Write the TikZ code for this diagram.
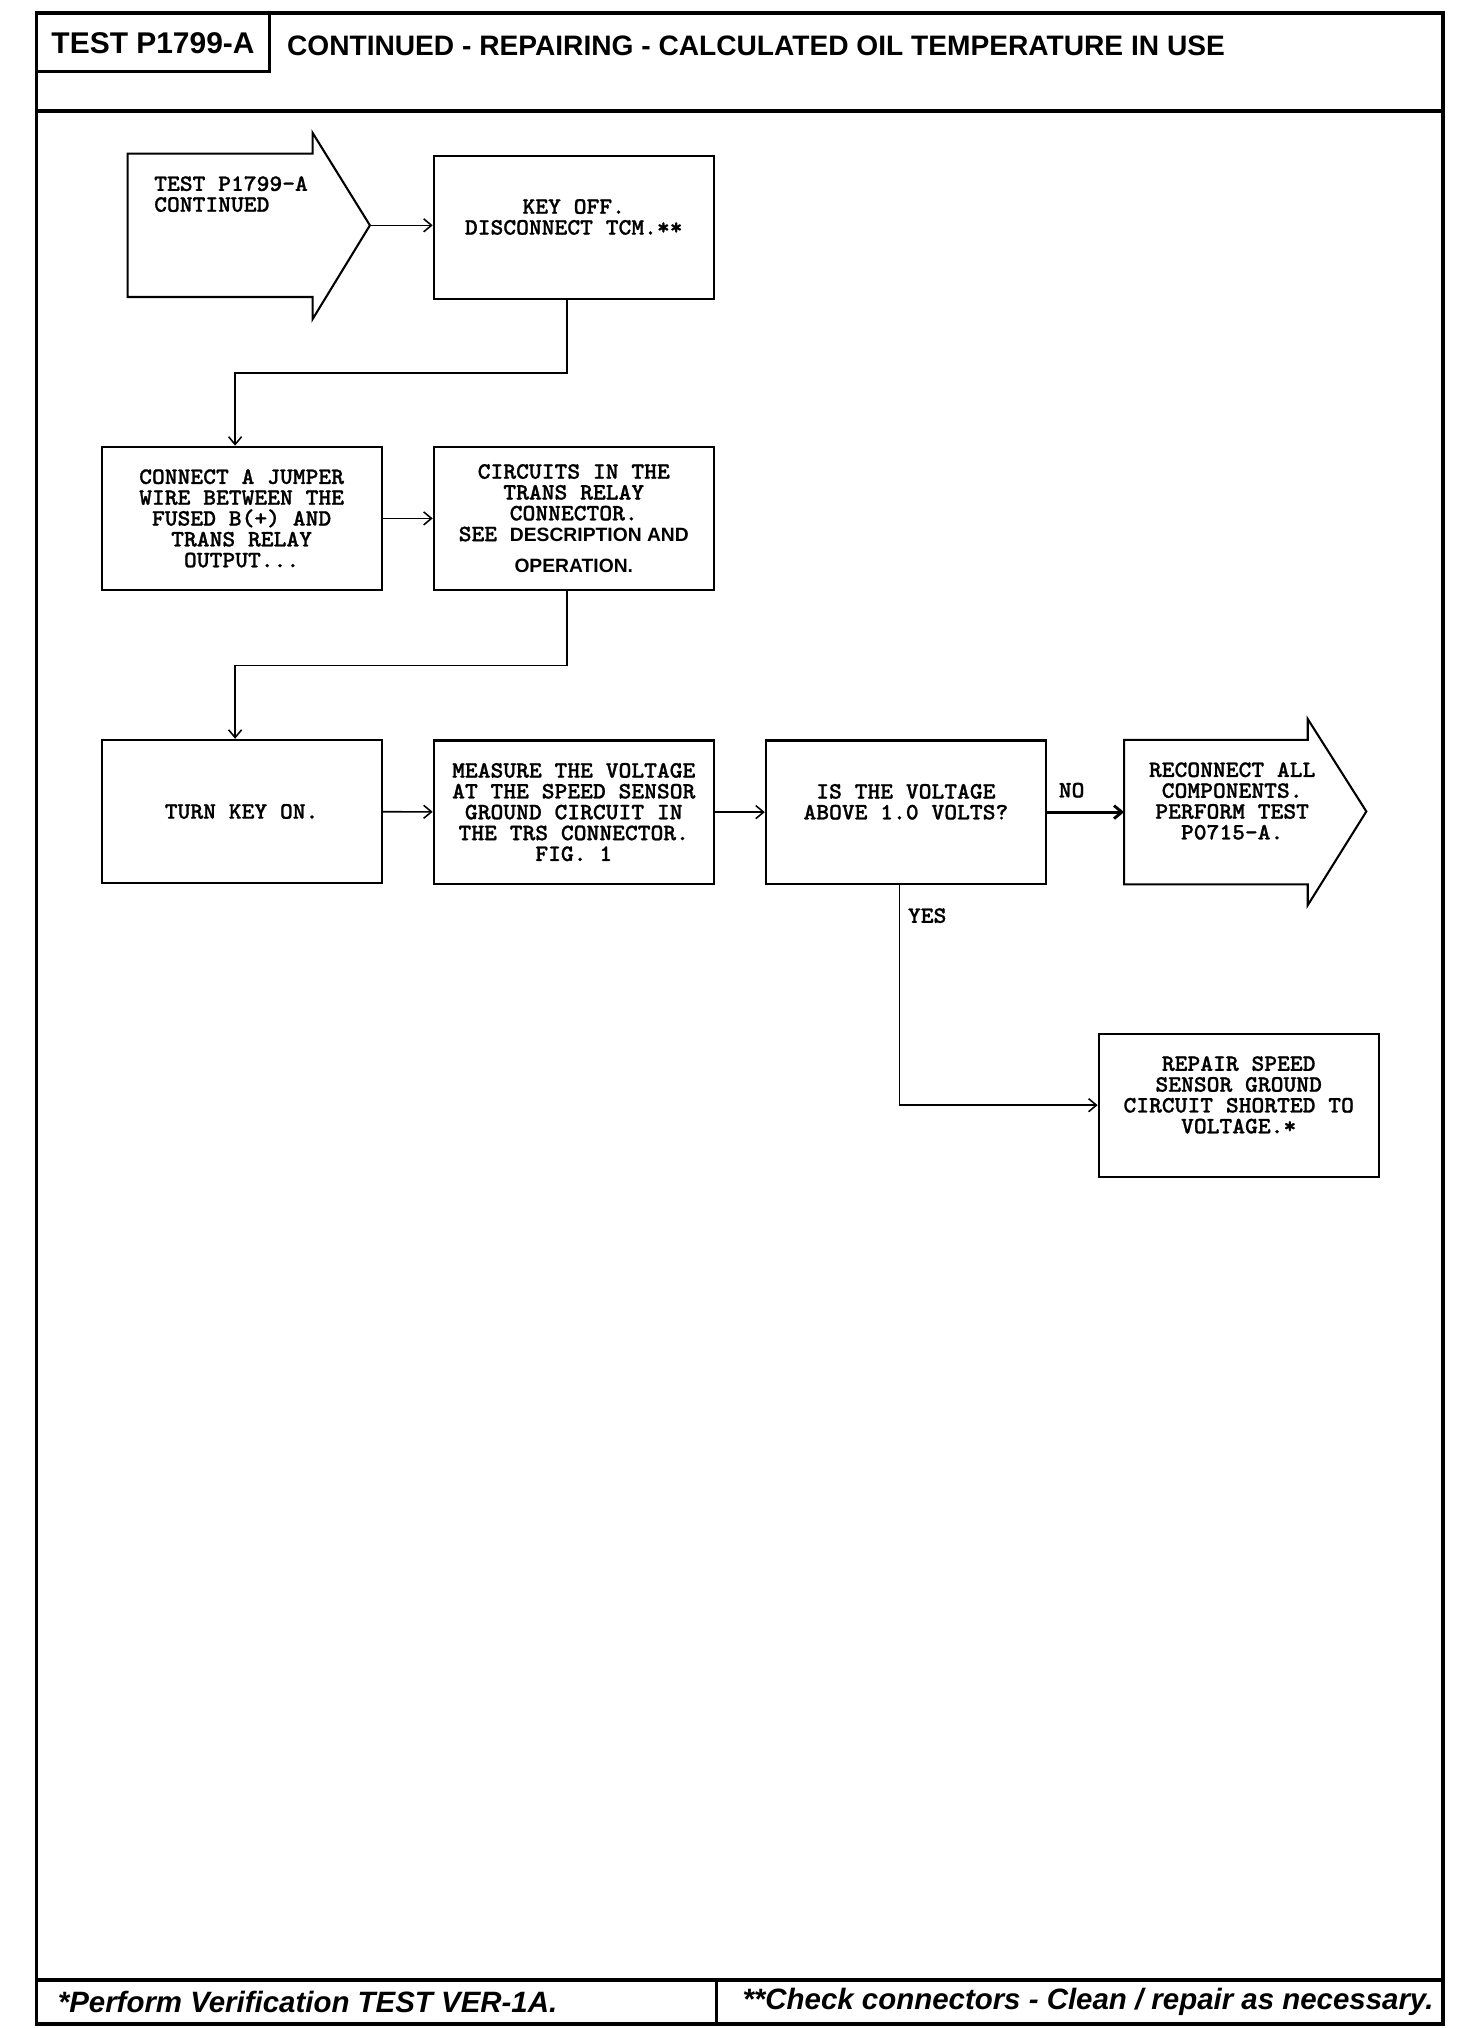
\documentclass[tikz,border=0pt]{standalone}
\usepackage{fontspec}
\usepackage{tikz}
\usetikzlibrary{arrows.meta,positioning}
\newfontfamily\boxfont{lmmonolt10-bold.otf}[FakeStretch=1.04,FakeBold=1]
\newfontfamily\hdfont{Liberation Sans}
\newcommand{\opsans}[1]{{\hdfont\bfseries\fontsize{7.4}{8}\selectfont #1}}
\tikzstyle{frame} = [line width=1.4pt]
\tikzstyle{outline} = [draw, line width=0.8pt]
\tikzstyle{box} = [draw, rectangle, line width=0.8pt, minimum width=107.5pt, minimum height=55pt, inner sep=0pt, align=center, font=\boxfont\fontsize{9}{8}\selectfont]
\tikzstyle{txt} = [inner sep=1pt, font=\boxfont\fontsize{9}{8}\selectfont]
\tikzstyle{flow} = [->, >={Straight Barb[length=3pt,width=5pt]}, line width=0.6pt]

\begin{document}
\begin{tikzpicture}[x=0.5pt,y=-0.5pt]
\useasboundingbox (0,0) rectangle (1130,1557);

% Frame, header and footer
\draw[frame] (28,10) rectangle (1108,1554);
\draw[frame] (28,85) -- (1108,85);
\draw[frame] (207,10) -- (207,55) -- (28,55);
\draw[frame] (28,1520) -- (1108,1520);
\draw[frame] (550,1520) -- (550,1554);
\node[font=\hdfont\bfseries\fontsize{11.5}{13}\selectfont] (code) at (117.5,33) {TEST P1799-A};
\node[anchor=west, inner sep=0pt, font=\hdfont\bfseries\fontsize{10.8}{13}\selectfont] (title) at (220,35) {CONTINUED - REPAIRING - CALCULATED OIL TEMPERATURE IN USE};
\node[anchor=west, inner sep=0pt, font=\hdfont\bfseries\itshape\fontsize{11.3}{13}\selectfont] (note1) at (44,1537) {*Perform Verification TEST VER-1A.};
\node[anchor=east, inner sep=0pt, font=\hdfont\bfseries\itshape\fontsize{11.3}{13}\selectfont] (note2) at (1101,1537) {**Check connectors - Clean / repair as necessary.};

% Entry arrow
\draw[outline] (98,118) -- (240,118) -- (240,102) -- (284,173) -- (240,245) -- (240,228) -- (98,228) -- cycle;
\coordinate (entry) at (284,173);
\node[txt, anchor=west, align=left] (entrytxt) at (116,149) {TEST P1799-A\\CONTINUED};

% Row 1
\node[box] (keyoff) at (440.5,174.5) {KEY OFF.\\DISCONNECT TCM.**\\\mbox{}};

% Row 2
\node[box] (jumper) at (185.5,398) {CONNECT A JUMPER\\WIRE BETWEEN THE\\FUSED B(+) AND\\TRANS RELAY\\OUTPUT...};
\node[box] (circuits) at (440.5,398) {CIRCUITS IN THE\\TRANS RELAY\\CONNECTOR.\\SEE \opsans{DESCRIPTION AND}\\[4pt]\opsans{OPERATION.}};

% Row 3
\node[box] (keyon) at (185.5,623) {TURN KEY ON.};
\node[box] (measure) at (440.5,623.5) {MEASURE THE VOLTAGE\\AT THE SPEED SENSOR\\GROUND CIRCUIT IN\\THE TRS CONNECTOR.\\FIG. 1};
\node[box] (above) at (695.5,623.5) {IS THE VOLTAGE\\ABOVE 1.0 VOLTS?\\\mbox{}};

% Exit arrow
\draw[outline] (863,568) -- (1004,568) -- (1004,552) -- (1049,623) -- (1004,695) -- (1004,679) -- (863,679) -- cycle;
\coordinate (exit) at (863,623.5);
\node[txt, align=center] (exittxt) at (946,615) {RECONNECT ALL\\COMPONENTS.\\PERFORM TEST\\P0715-A.};

% Row 4
\node[box] (repair) at (951,848.5) {REPAIR SPEED\\SENSOR GROUND\\CIRCUIT SHORTED TO\\VOLTAGE.*\\\mbox{}};

% Connectors
\draw[flow] (entry) -- (entry -| keyoff.west);
\draw[flow] ([xshift=-2.5pt]keyoff.south) -- ++(0,56) -| ([xshift=-2.5pt]jumper.north);
\draw[flow] (jumper) -- (circuits);
\draw[flow] ([xshift=-2.5pt]circuits.south) -- ++(0,57) -| ([xshift=-2.5pt]keyon.north);
\draw[flow] (keyon) -- (measure);
\draw[flow] (measure) -- (above);
\draw[flow, line width=1.1pt] (above) -- (exit) node[txt, pos=0.32, above=4pt] {NO};
\draw[flow] ([xshift=-2.5pt]above.south) |- (repair) node[txt, pos=0.07, anchor=west, xshift=2pt] {YES};
\end{tikzpicture}
\end{document}
